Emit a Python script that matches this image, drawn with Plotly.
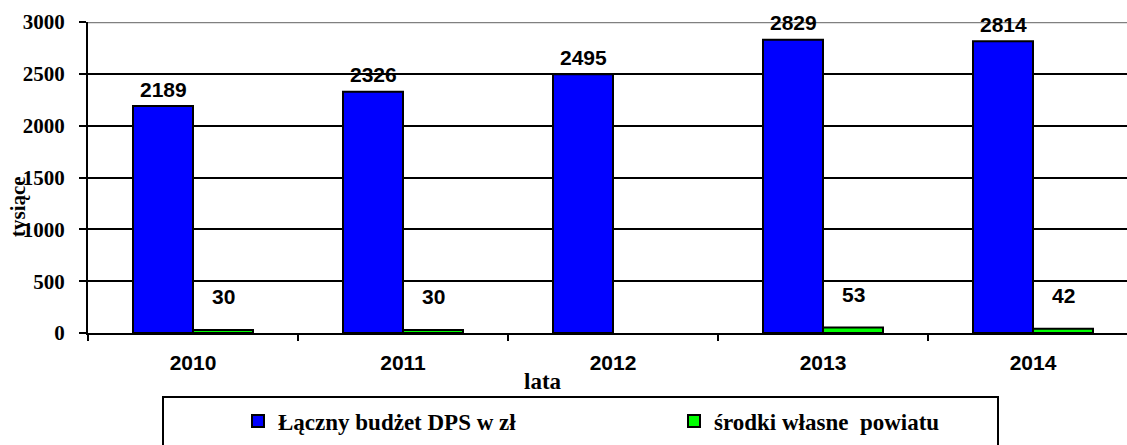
import plotly.graph_objects as go

years = ["2010", "2011", "2012", "2013", "2014"]
budzet = [2189, 2326, 2495, 2829, 2814]
srodki = [30, 30, None, 53, 42]
series_names = ["Łączny budżet DPS w zł", "środki własne  powiatu"]
y_ticks = [0, 500, 1000, 1500, 2000, 2500, 3000]

W, H = 1127, 445
L, R, T, B = 88, 0, 22, 112
pw = W - L - R
ph = H - T - B

def px2paper_x(px):
    return (px - L) / pw

def px2paper_y(py):
    return (H - B - py) / ph

serif = "Liberation Serif"
sans = "Liberation Sans"

fig = go.Figure()
fig.add_trace(go.Bar(
    x=years, y=budzet, name=series_names[0],
    marker=dict(color="#0000FF", line=dict(color="black", width=2)),
))
fig.add_trace(go.Bar(
    x=years, y=srodki, name=series_names[1],
    marker=dict(color="#00FF00", line=dict(color="black", width=2)),
))

label_font = dict(family=sans, size=21, color="black", weight="bold")
for i, v in enumerate(budzet):
    fig.add_annotation(x=i, y=v, xref="x", yref="y", text=str(v),
                       xanchor="center", yanchor="middle",
                       showarrow=False, xshift=-30, yshift=17, font=label_font)
for i, v in enumerate(srodki):
    if v is None:
        continue
    fig.add_annotation(x=i, y=v, xref="x", yref="y", text=str(v),
                       xanchor="center", yanchor="middle",
                       showarrow=False, xshift=30, yshift=33, font=label_font)

# axis titles
fig.add_annotation(x=px2paper_x(543), y=px2paper_y(381), xref="paper", yref="paper",
                   text="lata", showarrow=False, xanchor="center", yanchor="middle",
                   font=dict(family=serif, size=23, color="black", weight="bold"))
fig.add_annotation(x=px2paper_x(18), y=px2paper_y(207), xref="paper", yref="paper",
                   text="tysiące", showarrow=False, textangle=-90,
                   xanchor="center", yanchor="middle",
                   font=dict(family=serif, size=21, color="black", weight="bold"))

# top border line (gray) at max
fig.add_shape(type="line", xref="paper", yref="y", x0=0, x1=1, y0=3000, y1=3000,
              line=dict(color="#808080", width=2.5))
# legend frame
fig.add_shape(type="rect", xref="paper", yref="paper",
              x0=px2paper_x(163), x1=px2paper_x(998),
              y0=px2paper_y(460), y1=px2paper_y(397),
              line=dict(color="black", width=2), fillcolor="rgba(0,0,0,0)")

fig.update_layout(
    width=W, height=H,
    margin=dict(l=L, r=R, t=T, b=B, autoexpand=False),
    paper_bgcolor="white", plot_bgcolor="white",
    barmode="group", bargap=0.4286, bargroupgap=0,
    showlegend=True,
    legend=dict(orientation="h", xref="container", yref="container",
                x=238 / W, y=1 - 421 / H, xanchor="left", yanchor="middle",
                entrywidth=391, entrywidthmode="pixels",
                font=dict(family=serif, size=23, color="black", weight="bold"),
                bgcolor="rgba(0,0,0,0)", borderwidth=0,
                traceorder="normal"),
)
fig.update_xaxes(
    type="category", range=[-0.5, 4.5 - 11 / 210], automargin=False,
    showline=True, linecolor="black", linewidth=2,
    ticks="outside", tickson="boundaries", ticklen=6, tickwidth=2, tickcolor="black",
    tickfont=dict(family=sans, size=21, color="black", weight="bold"),
    ticklabelstandoff=10,
    showgrid=False, zeroline=False,
)
fig.update_yaxes(
    range=[0, 3000], tickvals=y_ticks, automargin=False,
    showline=True, linecolor="black", linewidth=2,
    ticks="outside", ticklen=7, tickwidth=2, tickcolor="black",
    tickfont=dict(family=serif, size=21, color="black", weight="bold"),
    ticklabelstandoff=10,
    showgrid=True, gridcolor="black", gridwidth=1.5,
    zeroline=False,
)

fig.write_html("out.html", config={"displayModeBar": False},
               post_script="document.body.style.margin='0';document.body.style.overflow='hidden';")
